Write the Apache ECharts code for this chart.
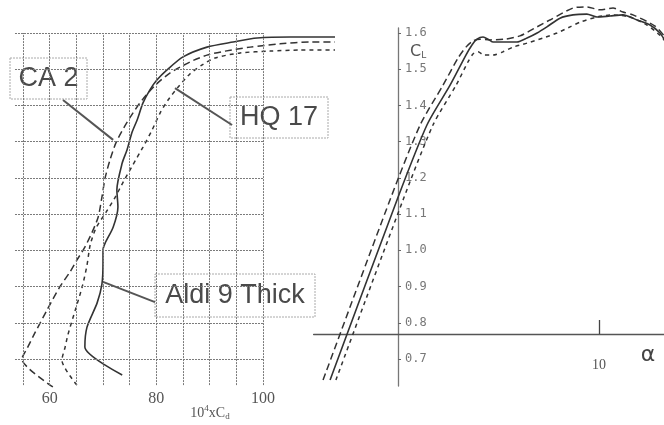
<!DOCTYPE html>
<html><head><meta charset="utf-8">
<script src="https://cdn.jsdelivr.net/npm/echarts@6/dist/echarts.min.js"></script>
<style>html,body{margin:0;padding:0;background:#fff}#c{width:664px;height:425px}</style>
</head><body><div id="c"></div>
<script>
// ---- tick / grid values ----
const cdTickLabels = [60, 80, 100];
const gridCd = [55, 60, 65, 70, 75, 80, 85, 90, 95, 100];
const gridCl = [0.7, 0.8, 0.9, 1.0, 1.1, 1.2, 1.3, 1.4, 1.5, 1.6];
const clTicks = [0.7, 0.8, 0.9, 1.0, 1.1, 1.2, 1.3, 1.4, 1.5, 1.6];
const alphaTicks = [10];

// ---- drag polars: [10^4 x Cd, CL] ----
const aldiPolar = [[73.6,0.656],[66.6,0.733],[67.0,0.788],[68.9,0.855],[69.8,0.907],[70.0,0.965],[70.0,1.001],[70.4,1.020],[71.9,1.064],[72.8,1.120],[72.6,1.167],[73.6,1.241],[74.5,1.277],[75.4,1.324],[76.4,1.360],[77.5,1.407],[78.8,1.443],[80.1,1.470],[82.0,1.498],[85.0,1.534],[89.5,1.561],[94.4,1.575],[98.9,1.586],[105.1,1.589],[113.5,1.589]];
const ca2Polar = [[60.6,0.623],[54.8,0.700],[55.8,0.730],[57.3,0.774],[59.5,0.835],[61.9,0.899],[63.8,0.940],[65.1,0.973],[66.6,1.009],[67.9,1.048],[69.1,1.092],[69.8,1.147],[70.4,1.200],[71.3,1.249],[72.4,1.296],[73.9,1.338],[75.6,1.379],[77.5,1.418],[79.8,1.456],[82.6,1.490],[86.3,1.520],[89.5,1.539],[92.9,1.550],[97.6,1.561],[103.2,1.570],[108.8,1.575],[113.5,1.575]];
const hq17Polar = [[65.1,0.628],[62.3,0.697],[62.9,0.733],[63.4,0.766],[64.8,0.835],[66.1,0.899],[67.0,0.959],[67.6,1.015],[68.7,1.062],[70.6,1.106],[72.3,1.147],[73.8,1.189],[75.6,1.236],[77.5,1.285],[79.2,1.332],[80.7,1.379],[82.2,1.415],[84.1,1.451],[86.3,1.487],[88.6,1.512],[91.0,1.531],[95.7,1.545],[101.3,1.550],[106.9,1.553],[113.5,1.553]];

// ---- lift curves: [alpha, CL] ----
const aldiLift = [[-3.38,0.642],[-0.05,1.139],[1.44,1.346],[2.59,1.456],[3.38,1.539],[3.68,1.567],[3.93,1.583],[4.23,1.589],[4.53,1.581],[4.73,1.575],[5.42,1.575],[5.92,1.575],[6.42,1.586],[6.92,1.600],[7.41,1.617],[8.06,1.641],[8.71,1.650],[9.40,1.652],[9.90,1.644],[10.55,1.647],[11.19,1.650],[11.89,1.636],[12.54,1.622],[13.03,1.600],[13.33,1.575]];
const ca2Lift = [[-3.73,0.642],[-0.40,1.139],[1.10,1.346],[2.24,1.456],[2.99,1.531],[3.38,1.561],[3.73,1.578],[4.08,1.583],[4.58,1.581],[5.32,1.583],[6.07,1.592],[6.92,1.617],[7.56,1.636],[8.71,1.669],[9.40,1.672],[10.05,1.664],[10.70,1.669],[11.19,1.658],[11.69,1.650],[12.79,1.619],[13.33,1.586]];
const hq17Lift = [[-3.09,0.642],[0.25,1.139],[1.74,1.346],[2.89,1.456],[3.48,1.520],[3.73,1.542],[3.98,1.548],[4.28,1.539],[4.73,1.539],[5.22,1.548],[5.72,1.561],[6.42,1.572],[7.21,1.586],[7.91,1.600],[8.56,1.617],[9.06,1.630],[9.90,1.644],[10.70,1.650],[11.54,1.644],[12.39,1.622],[13.03,1.594],[13.33,1.575]];

// leader lines (label box -> curve), data coords of left plot
const leaders = [
  [[62.5,1.415],[71.9,1.305]],
  [[94.2,1.346],[83.5,1.448]],
  [[79.75,0.857],[70.0,0.913]]
];

const chart = echarts.init(document.getElementById('c'), null, {renderer:'canvas'});
const ink = '#333';
const gridBase = {containLabel:false, outerBoundsMode:'none'};

const option = {
  animation:false,
  backgroundColor:'#fff',
  grid:[
    Object.assign({left:12.33, top:0.4, width:330.67, height:387.6}, gridBase),
    Object.assign({left:313.6, top:0.4, width:351.7, height:387.6}, gridBase),
    Object.assign({left:398.0, top:28, width:267.3, height:358}, gridBase),
    Object.assign({left:313.6, top:333, width:351.7, height:1}, gridBase)
  ],
  xAxis:[
    {gridIndex:0, type:'value', min:53, max:115,
      axisLine:{show:false}, axisTick:{show:false}, splitLine:{show:false},
      axisLabel:{customValues:cdTickLabels, margin:3, fontFamily:'Liberation Serif', fontSize:16, color:'#555'}},
    {gridIndex:1, type:'value', min:-4.2, max:13.3, show:false},
    {gridIndex:2, type:'value', min:0, max:13.3, show:false},
    {gridIndex:3, type:'value', min:-4.2, max:13.3,
      axisLine:{show:true, lineStyle:{color:'#555', width:1.3}},
      axisTick:{show:true, customValues:alphaTicks, inside:true, length:14, lineStyle:{color:'#444', width:1.3}},
      axisLabel:{customValues:alphaTicks, margin:24, fontFamily:'Liberation Serif', fontSize:14, color:'#555'},
      splitLine:{show:false}}
  ],
  yAxis:[
    {gridIndex:0, type:'value', min:0.62, max:1.69, show:false},
    {gridIndex:1, type:'value', min:0.62, max:1.69, show:false},
    {gridIndex:2, type:'value', min:0.6254, max:1.6138, position:'left',
      axisLine:{show:true, onZero:false, lineStyle:{color:'#777', width:1.3}},
      axisTick:{show:true, customValues:clTicks, inside:true, length:3, lineStyle:{color:'#666'}},
      axisLabel:{customValues:clTicks, inside:true, margin:7, fontFamily:'DejaVu Sans Mono', fontSize:12, color:'#777',
        formatter:v=>Number(v).toFixed(1)},
      splitLine:{show:false}},
    {gridIndex:3, type:'value', min:0, max:1, show:false}
  ],
  series:[
    {type:'line', xAxisIndex:0, yAxisIndex:0, data:[], z:1, silent:true,
      markLine:{silent:true, symbol:['none','none'], label:{show:false}, animation:false,
        lineStyle:{color:'#7a7a7a', width:1, type:[2,1]},
        emphasis:{disabled:true},
        data:[
          ...gridCd.map(v=>[{coord:[v,0.628]},{coord:[v,1.6]}]),
          ...gridCl.map(v=>[{coord:[53.5,v]},{coord:[100,v]}])
        ]}},
    {name:'Aldi 9 Thick', type:'line', xAxisIndex:0, yAxisIndex:0, data:aldiPolar, symbol:'none', smooth:0.25, z:3,
      lineStyle:{color:ink, width:1.6}},
    {name:'CA 2', type:'line', xAxisIndex:0, yAxisIndex:0, data:ca2Polar, symbol:'none', smooth:0.25, z:3,
      lineStyle:{color:ink, width:1.5, type:[7,4]}},
    {name:'HQ 17', type:'line', xAxisIndex:0, yAxisIndex:0, data:hq17Polar, symbol:'none', smooth:0.25, z:3,
      lineStyle:{color:ink, width:1.5, type:[4,4]}},
    {type:'line', xAxisIndex:0, yAxisIndex:0, data:[], z:4, silent:true,
      markLine:{silent:true, symbol:['none','none'], label:{show:false}, animation:false,
        lineStyle:{color:'#555', width:2, type:'solid'},
        emphasis:{disabled:true},
        data:leaders.map(l=>[{coord:l[0]},{coord:l[1]}])}},
    {name:'Aldi 9 Thick α', type:'line', xAxisIndex:1, yAxisIndex:1, data:aldiLift, symbol:'none', smooth:0.25, z:3,
      lineStyle:{color:ink, width:1.6}},
    {name:'CA 2 α', type:'line', xAxisIndex:1, yAxisIndex:1, data:ca2Lift, symbol:'none', smooth:0.25, z:3,
      lineStyle:{color:ink, width:1.5, type:[7,4]}},
    {name:'HQ 17 α', type:'line', xAxisIndex:1, yAxisIndex:1, data:hq17Lift, symbol:'none', smooth:0.25, z:3,
      lineStyle:{color:ink, width:1.5, type:[4,4]}}
  ],
  graphic:[
    {type:'group', z:10, children:[
      {type:'rect', shape:{x:10, y:58, width:77, height:41}, style:{fill:'#fff', stroke:'#aaa', lineWidth:1, lineDash:[2,1]}},
      {type:'text', x:48.5, y:79, style:{text:'CA 2', fill:'#4a4a4a', fontSize:27, fontFamily:'Liberation Sans', align:'center', verticalAlign:'middle'}}
    ]},
    {type:'group', z:10, children:[
      {type:'rect', shape:{x:230, y:97, width:98, height:41}, style:{fill:'#fff', stroke:'#aaa', lineWidth:1, lineDash:[2,1]}},
      {type:'text', x:279, y:118, style:{text:'HQ 17', fill:'#4a4a4a', fontSize:27, fontFamily:'Liberation Sans', align:'center', verticalAlign:'middle'}}
    ]},
    {type:'group', z:10, children:[
      {type:'rect', shape:{x:155, y:274, width:160, height:43}, style:{fill:'#fff', stroke:'#aaa', lineWidth:1, lineDash:[2,1]}},
      {type:'text', x:235, y:296, style:{text:'Aldi 9 Thick', fill:'#4a4a4a', fontSize:27, fontFamily:'Liberation Sans', align:'center', verticalAlign:'middle'}}
    ]},
    {type:'text', z:10, x:210, y:413, style:{text:'{a|10}{s|4}{a|xC}{d|d}', align:'center', verticalAlign:'middle',
      rich:{a:{fontFamily:'Liberation Serif', fontSize:14, fill:'#555'},
            s:{fontFamily:'Liberation Serif', fontSize:9, fill:'#555', padding:[0,0,8,0]},
            d:{fontFamily:'Liberation Serif', fontSize:9, fill:'#555', padding:[7,0,0,0]}}}},
    {type:'text', z:10, x:410, y:52, style:{text:'{c|C}{l|L}', align:'left', verticalAlign:'middle',
      rich:{c:{fontFamily:'DejaVu Sans', fontSize:16, fill:'#555'},
            l:{fontFamily:'DejaVu Sans', fontSize:9, fill:'#555', padding:[7,0,0,0]}}}},
    {type:'text', z:10, x:648, y:355, style:{text:'α', fill:'#444', fontSize:22, fontFamily:'DejaVu Sans', align:'center', verticalAlign:'middle'}}
  ]
};
chart.setOption(option);
</script></body></html>
